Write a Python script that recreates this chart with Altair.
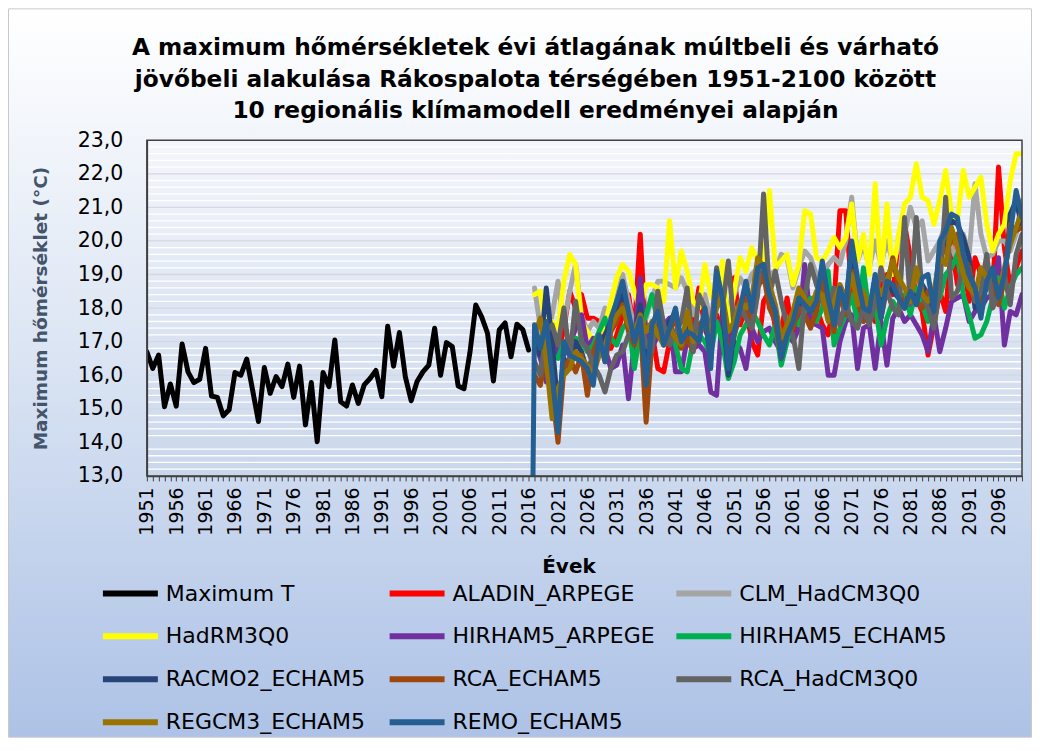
import altair as alt
import pandas as pd

# ---------------- data ----------------
years_obs = list(range(1951, 2017))
max_t = [
    16.70, 16.20, 16.60, 15.06, 15.74, 15.08, 16.93, 16.10, 15.78, 15.88,
    16.80, 15.38, 15.34, 14.79, 14.97, 16.08, 16.00, 16.48, 15.56, 14.62,
    16.23, 15.46, 15.96, 15.66, 16.33, 15.34, 16.27, 14.52, 15.78, 14.02,
    16.08, 15.66, 17.05, 15.21, 15.08, 15.71, 15.16, 15.71, 15.90, 16.14,
    15.36, 17.46, 16.27, 17.27, 15.96, 15.24, 15.81, 16.10, 16.30, 17.40,
    16.00, 16.97, 16.85, 15.68, 15.60, 16.67, 18.09, 17.74, 17.25, 15.83,
    17.35, 17.56, 16.55, 17.52, 17.36, 16.75,
]

years_model = list(range(2017, 2101))

aladin = [
    17.2, 16.8, 17.0, 17.3, 16.6, 17.4, 18.5, 18.0, 18.4, 17.7,
    17.7, 17.6, 17.0, 16.8, 17.2, 17.8, 18.4, 17.3, 20.2, 17.0,
    17.3, 16.2, 16.1, 17.0, 16.6, 17.2, 16.9, 17.5, 18.6, 17.4,
    16.9, 17.8, 17.2, 16.6, 18.9, 17.5, 18.0, 17.0, 16.6, 18.2,
    18.5, 17.4, 17.3, 18.3, 17.2, 17.8, 18.4, 17.6, 18.0, 17.5,
    17.2, 18.2, 20.9, 20.9, 18.5, 17.8, 18.4, 18.0, 17.6, 18.6,
    19.0, 18.4, 20.1, 20.5, 19.5, 18.3, 17.9, 16.6, 17.5, 18.5,
    17.9, 19.9, 18.7, 19.4, 18.2, 19.5, 19.0, 19.3, 18.4, 22.2,
    19.8, 18.6, 19.2, 19.7,
]
clm = [
    18.6, 17.4, 17.0, 17.8, 18.8, 17.5, 18.5, 19.3, 17.8, 17.3,
    17.6, 17.4, 18.0, 17.5, 18.3, 19.0, 18.2, 17.4, 18.0, 17.7,
    18.3, 18.8, 18.8, 18.7, 18.6, 18.9, 18.5, 17.8, 18.2, 18.4,
    17.6, 18.3, 18.8, 17.9, 18.4, 18.9, 18.6, 19.0, 19.2, 18.8,
    19.0, 19.1, 19.6, 19.5, 18.6, 19.2, 19.7, 19.5, 19.0, 18.9,
    19.3, 19.5, 19.3, 20.0, 21.3, 19.4, 19.9, 19.2, 20.0, 19.3,
    20.0, 19.4, 19.8, 20.2, 21.0, 20.4, 20.6, 19.4, 19.7, 20.0,
    20.5, 19.8, 19.4, 20.2, 19.6, 21.7, 20.2, 19.5, 19.6, 20.0,
    20.0, 19.7, 20.2, 21.2,
]
hadrm = [
    18.4, 18.5, 17.3, 17.6, 17.4, 18.8, 19.6, 19.3, 17.6, 17.3,
    17.0, 17.2, 17.5, 18.2, 18.9, 19.3, 19.1, 18.5, 17.9, 18.7,
    18.7, 18.6, 18.2, 20.6, 18.6, 19.7, 19.1, 18.2, 18.0, 19.3,
    18.4, 18.1, 19.4, 17.4, 18.5, 19.5, 19.1, 19.8, 19.4, 19.2,
    21.5, 19.2, 19.4, 19.6, 18.7, 19.3, 20.9, 20.8, 19.5, 19.4,
    19.7, 20.1, 19.8, 20.1, 21.1, 19.4, 20.2, 19.0, 21.7, 18.9,
    21.1, 19.0, 20.2, 21.1, 21.3, 22.3, 21.3, 21.2, 20.5, 21.2,
    22.1, 20.8, 20.6, 22.1, 21.3, 21.6, 21.9, 20.5, 19.7, 20.2,
    20.5, 21.8, 22.6, 22.6,
]
hirham_arp = [
    17.0, 16.5, 15.8, 16.4, 16.9, 16.6, 16.9, 17.4, 17.8, 16.8,
    17.1, 16.6, 16.8, 16.2, 16.3, 16.9, 15.3, 17.0, 18.9, 17.2,
    16.8, 17.2, 17.5, 17.7, 16.1, 16.1, 17.1, 16.8, 16.9, 16.7,
    15.5, 15.4, 17.9, 17.2, 17.0, 16.8, 16.2, 17.4, 17.0, 17.3,
    17.4, 17.0, 16.7, 17.2, 17.0, 17.4, 19.3, 17.6, 17.5, 17.4,
    16.0, 16.0, 17.0, 17.6, 17.8, 16.2, 17.4, 17.5, 16.2, 17.6,
    16.3, 17.7, 18.0, 17.6, 17.8, 17.5, 17.2, 16.7, 17.8, 16.7,
    17.4, 18.2, 18.3, 18.4, 17.6, 17.9, 18.0, 18.3, 18.4, 19.5,
    16.9, 17.9, 17.8, 18.4,
]
hirham_ech = [
    17.4, 16.9, 17.1, 16.6, 16.5, 17.0, 16.9, 17.1, 17.0, 16.7,
    16.9, 17.3, 17.7, 17.1, 16.9, 17.4, 17.6, 16.2, 17.3, 17.8,
    18.4, 17.6, 17.0, 17.3, 16.9, 16.2, 16.1, 17.0, 17.2, 17.0,
    16.6, 17.6, 17.0, 15.9, 16.4, 17.2, 17.5, 17.9, 17.6, 17.2,
    16.9, 17.5, 16.3, 17.0, 17.7, 17.5, 17.9, 18.3, 17.6, 18.0,
    19.1, 16.9, 17.4, 17.8, 18.4, 17.6, 19.2, 17.8, 18.1, 16.9,
    17.7, 18.2, 17.9, 18.4, 17.8, 18.6, 18.1, 17.6, 18.5, 18.3,
    19.0, 19.2, 19.6, 18.4, 17.8, 17.1, 17.2, 17.6, 18.3, 18.9,
    18.0, 18.6, 19.0, 19.2,
]
racmo = [
    17.3, 16.6, 18.6, 17.0, 15.0, 16.5, 16.2, 17.0, 16.7, 16.1,
    16.6, 16.8, 17.2, 17.6, 18.0, 18.4, 17.7, 17.1, 18.1, 16.2,
    17.2, 17.5, 17.0, 17.6, 17.9, 17.0, 17.4, 17.1, 17.3, 17.8,
    16.5, 18.8, 18.0, 16.0, 17.2, 17.9, 18.5, 17.7, 19.0, 19.1,
    18.3, 17.8, 16.7, 17.4, 17.6, 18.2, 18.1, 17.9, 18.0, 19.2,
    18.2, 17.6, 18.5, 18.1, 19.8, 18.5, 18.1, 17.9, 18.9, 18.0,
    18.7, 18.5, 18.3, 18.0, 18.6, 18.2, 18.7, 18.4, 17.9, 19.8,
    19.9, 20.6, 20.5, 20.1, 19.5, 18.0, 18.3, 18.6, 19.0, 18.4,
    18.7, 20.8, 21.2, 20.4,
]
rca_ech = [
    16.0, 15.7, 16.8, 15.5, 14.0, 16.2, 16.5, 16.1, 16.6, 15.4,
    16.7, 17.2, 16.4, 17.3, 17.6, 18.1, 17.3, 16.9, 17.6, 14.6,
    17.0, 17.4, 16.9, 17.2, 17.8, 16.8, 17.1, 16.7, 17.5, 17.7,
    16.8, 18.6, 18.1, 16.5, 17.2, 17.8, 18.3, 17.4, 18.6, 19.0,
    18.0, 17.6, 16.5, 17.3, 17.4, 18.0, 17.8, 17.4, 17.9, 18.8,
    17.9, 17.3, 18.4, 17.8, 19.1, 18.2, 17.6, 17.8, 18.6, 17.7,
    18.6, 19.5, 18.6, 18.0, 18.4, 18.2, 18.0, 18.5, 18.3, 19.6,
    19.7, 20.0, 20.2, 19.5, 19.2, 18.3, 18.1, 19.0, 18.6, 18.1,
    18.8, 20.5, 20.3, 20.4,
]
rca_had = [
    16.4, 16.0, 17.3, 17.5, 16.9, 18.0, 16.5, 18.2, 17.0, 16.8,
    16.3, 16.0, 15.5, 16.2, 16.6, 16.7, 17.2, 17.4, 17.7, 16.9,
    16.7, 18.5, 17.5, 16.9, 17.3, 17.6, 18.6, 16.7, 18.4, 18.0,
    17.2, 19.2, 18.0, 19.4, 17.4, 18.1, 17.7, 17.4, 18.4, 21.4,
    18.4, 19.1, 18.2, 17.5, 17.2, 16.2, 18.3, 19.3, 18.7, 18.2,
    17.9, 18.6, 17.5, 18.2, 17.6, 17.4, 18.0, 17.5, 18.2, 19.2,
    18.5, 18.0, 17.8, 20.7, 18.1, 20.7, 18.4, 18.0, 17.4, 18.6,
    21.3, 18.3, 18.5, 19.3, 18.8, 18.2, 18.5, 19.6, 18.0, 18.4,
    19.0, 18.1, 19.6, 20.2,
]
regcm = [
    17.2, 17.7, 16.4, 14.7, 15.6, 16.0, 16.2, 16.7, 16.5, 16.3,
    16.0, 16.6, 16.9, 17.4, 17.8, 18.0, 17.5, 17.2, 17.8, 17.3,
    17.6, 17.2, 16.9, 17.4, 17.1, 16.9, 17.9, 17.0, 17.2, 17.6,
    17.3, 18.0, 18.4, 17.3, 17.6, 18.2, 18.0, 18.3, 19.5, 19.2,
    18.7, 18.1, 17.1, 17.5, 17.9, 18.6, 18.3, 18.0, 18.5, 18.4,
    17.6, 18.2, 18.7, 18.3, 19.0, 18.1, 18.5, 17.9, 18.8, 18.4,
    18.8, 19.4, 18.9, 18.6, 18.2, 19.2, 18.4, 18.2, 18.5, 19.5,
    19.3, 20.4, 19.8, 19.0, 18.6, 18.4, 19.2, 18.9, 19.1, 18.5,
    19.2, 19.9, 20.4, 20.9,
]
# REMO starts with an off-scale value in 2016 (the vertical drop to the axis)
remo_years = [2016] + years_model
remo = [
    0.0,
    17.5, 16.8, 17.6, 16.0, 14.3, 17.0, 16.6, 16.5, 16.4, 16.2,
    15.7, 17.2, 16.4, 17.7, 18.2, 18.8, 17.9, 17.0, 17.7, 15.7,
    17.5, 17.9, 16.9, 17.4, 18.0, 17.0, 17.3, 17.2, 17.0, 18.0,
    16.2, 19.1, 18.3, 16.2, 17.3, 18.0, 18.8, 17.9, 19.2, 19.3,
    18.4, 17.9, 16.5, 17.2, 17.6, 18.3, 18.1, 17.9, 18.2, 19.4,
    18.3, 17.5, 18.6, 18.0, 20.0, 18.9, 18.0, 17.9, 19.0, 17.7,
    18.8, 18.7, 18.3, 18.0, 18.5, 18.1, 18.9, 19.0, 17.9, 20.0,
    20.3, 20.8, 20.7, 19.6, 19.0, 18.6, 17.7, 18.8, 19.2, 18.3,
    19.0, 20.2, 21.5, 20.7,
]

series_names = [
    "Maximum T", "ALADIN_ARPEGE", "CLM_HadCM3Q0",
    "HadRM3Q0", "HIRHAM5_ARPEGE", "HIRHAM5_ECHAM5",
    "RACMO2_ECHAM5", "RCA_ECHAM5", "RCA_HadCM3Q0",
    "REGCM3_ECHAM5", "REMO_ECHAM5",
]
series_colors = [
    "#000000", "#ff0000", "#a5a5a5",
    "#ffff00", "#7030a0", "#00b050",
    "#264478", "#9e480e", "#636363",
    "#997300", "#255e91",
]
series_data = [
    (years_obs, max_t), (years_model, aladin), (years_model, clm),
    (years_model, hadrm), (years_model, hirham_arp), (years_model, hirham_ech),
    (years_model, racmo), (years_model, rca_ech), (years_model, rca_had),
    (years_model, regcm), (remo_years, remo),
]

rows = []
for name, (yrs, vals) in zip(series_names, series_data):
    assert len(yrs) == len(vals), name
    for yr, v in zip(yrs, vals):
        rows.append({"Év": yr, "T": v, "Sorozat": name})
df = pd.DataFrame(rows)

title_lines = [
    "A maximum hőmérsékletek évi átlagának múltbeli és várható",
    "jövőbeli alakulása Rákospalota térségében 1951-2100 között",
    "10 regionális klímamodell eredményei alapján",
]
y_title = "Maximum hőmérséklet (°C)"
x_title = "Évek"

y_major = list(range(14, 23))
y_minor = [round(13 + 0.2 * k, 1) for k in range(1, 50) if k % 5 != 0]
x_ticks = list(range(1951, 2101))

# ---------------- layout ----------------
FONT = "DejaVu Sans"
W, H = 876, 336
PL, PT, PR, PB = 139, 132, 10, 262

x_scale = alt.Scale(domain=[1951, 2100], nice=False, zero=False)
y_scale = alt.Scale(domain=[13, 23], nice=False, zero=False)

y_axis = alt.Axis(
    values=list(range(13, 24)),
    labelExpr="replace(format(datum.value, '.1f'), '.', ',')",
    labelFont=FONT, labelFontSize=20.5, labelColor="#000000", labelPadding=24,
    ticks=False, domainColor="#404040", domainWidth=1.5, grid=False, zindex=1,
    title=y_title, titleFont=FONT, titleFontSize=18.5, titleFontWeight="bold",
    titleColor="#44546a", titleX=-106, titleY=168, titleBaseline="middle",
    titleAngle=-90, titleAlign="center",
)
x_axis = alt.Axis(
    values=x_ticks,
    labelExpr="(datum.value - 1951) % 5 == 0 ? '' + datum.value : ''",
    labelAngle=-90, labelFont=FONT, labelFontSize=19, labelColor="#000000",
    labelPadding=6, labelOverlap=False, labelFlush=False, labelBound=False,
    tickSize=5, tickColor="#404040", tickWidth=1,
    domainColor="#404040", domainWidth=1.5, grid=False, zindex=1,
    title=x_title, titleFont=FONT, titleFontSize=20, titleFontWeight="bold",
    titleColor="#000000", titleX=422, titleY=91, titleBaseline="middle",
)

outer_grad = alt.LinearGradient(
    gradient="linear", x1=0, x2=0, y1=0, y2=1,
    stops=[alt.GradientStop(color="#ffffff", offset=0),
           alt.GradientStop(color="#dde6f4", offset=0.45),
           alt.GradientStop(color="#adc2e6", offset=1)],
)
plot_grad = alt.LinearGradient(
    gradient="linear", x1=0, x2=0, y1=0, y2=1,
    stops=[alt.GradientStop(color="#f4f6fb", offset=0),
           alt.GradientStop(color="#c9d6ec", offset=1)],
)

one = alt.Data(values=[{"k": 1}])

outer_bg = alt.Chart(one).mark_rect(fill=outer_grad, stroke="#c9c9c9", strokeWidth=1).encode(
    x=alt.value(-PL + 0.5), x2=alt.value(W + PR - 0.5),
    y=alt.value(-PT + 0.5), y2=alt.value(H + PB - 0.5),
)
plot_bg = alt.Chart(one).mark_rect(fill=plot_grad).encode(
    x=alt.value(0), x2=alt.value(W), y=alt.value(0), y2=alt.value(H),
)
minor_grid = alt.Chart(pd.DataFrame({"T": y_minor})).mark_rule(
    color="#ffffff", strokeWidth=1.3
).encode(y=alt.Y("T:Q", scale=y_scale, axis=y_axis))
major_grid = alt.Chart(pd.DataFrame({"T": y_major})).mark_rule(
    color="#d3d8e1", strokeWidth=1.3
).encode(y=alt.Y("T:Q", scale=y_scale, axis=y_axis))

lines = alt.Chart(df).mark_line(
    strokeWidth=5, strokeJoin="round", strokeCap="round", clip=True
).encode(
    x=alt.X("Év:Q", scale=x_scale, axis=x_axis),
    y=alt.Y("T:Q", scale=y_scale, axis=y_axis),
    color=alt.Color("Sorozat:N", scale=alt.Scale(domain=series_names, range=series_colors),
                    legend=alt.Legend(
                        title=None, orient="none", legendX=-47, legendY=423,
                        direction="horizontal",
                        columns=3, gridAlign="all", columnPadding=4, rowPadding=0,
                        symbolType="stroke", symbolSize=3025, symbolStrokeWidth=6,
                        labelFont=FONT, labelFontSize=22, labelColor="#000000",
                        labelLimit=400, labelOffset=5, padding=0, zindex=1,
                    )),
)

border = alt.Chart(one).mark_rect(filled=False, stroke="#404040", strokeWidth=1.5).encode(
    x=alt.value(0), x2=alt.value(W), y=alt.value(0), y2=alt.value(H),
)

title_text = alt.Chart(one).mark_text(
    text=title_lines, font=FONT, fontSize=23.3, fontWeight="bold", color="#000000",
    align="center", baseline="alphabetic", lineHeight=31.5,
).encode(x=alt.value(389), y=alt.value(-85))

chart = alt.layer(outer_bg, plot_bg, minor_grid, major_grid, lines, border, title_text).properties(
    width=W, height=H,
    padding={"left": PL, "top": PT, "right": PR, "bottom": PB},
    autosize=alt.AutoSizeParams(type="none"),
).configure_view(stroke=None)

chart.save("out.html", embed_options={"renderer": "svg", "actions": False})
